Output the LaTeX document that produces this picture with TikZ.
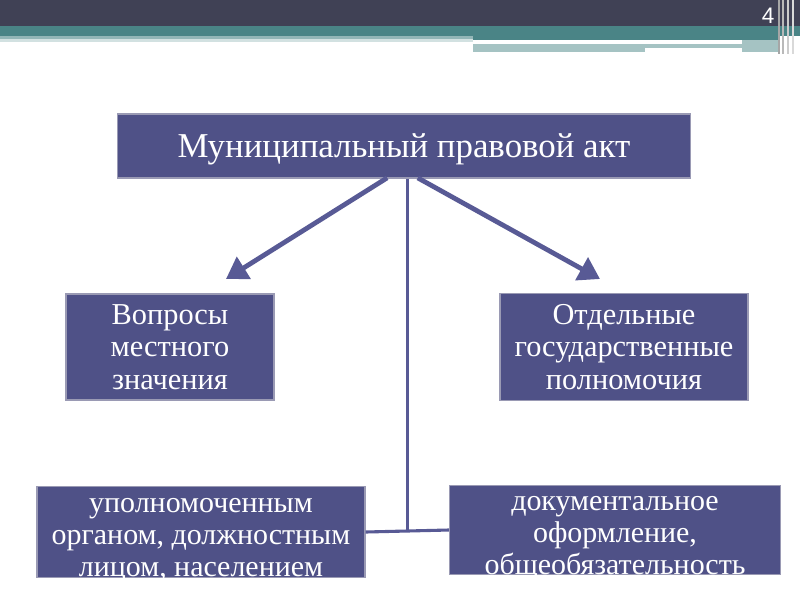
\documentclass[tikz,border=0pt]{standalone}
\usepackage{fontspec}
\setmainfont{Liberation Serif}
\newfontfamily\numfont{Liberation Sans}
\usetikzlibrary{arrows.meta,positioning,calc}

\definecolor{boxblue}{HTML}{4F5187}
\definecolor{boxedge}{HTML}{9A9AB4}
\definecolor{linkblue}{HTML}{585A95}
\definecolor{bardark}{HTML}{404155}
\definecolor{barteal}{HTML}{4A8486}
\definecolor{barlight}{HTML}{A5C3C3}

\newcommand{\toprule}{\rule{0pt}{22pt}}

\begin{document}
\begin{tikzpicture}[
    x=0.025cm, y=-0.025cm,
    box/.style={rectangle, draw=boxedge, line width=0.8pt, fill=boxblue, text=white, align=center, inner sep=0pt, font=\fontsize{21.6}{23}\selectfont},
    lowbox/.style={box, font=\fontsize{21.3}{22.5}\selectfont},
    arrow/.style={-{Triangle[length=15pt, width=18pt]}, line width=3.4pt, draw=linkblue, shorten <=-1pt},
    link/.style={line width=2.2pt, draw=linkblue}
]
\useasboundingbox (0,0) rectangle (800,600);
\fill[white] (0,0) rectangle (800,600);

% Header bars
\fill[bardark] (0,0) rectangle (800,26);
\fill[barteal] (0,26) rectangle (800,36);
\fill[barlight!80!barteal] (0,36) rectangle (473,39);
\fill[barlight!50!white] (0,39) rectangle (473,42);
\fill[barteal] (473,36) rectangle (780,40);
\fill[barlight] (473,44) rectangle (645,52);
\fill[barlight] (645,44) rectangle (780,48);
\fill[barlight] (742,40) rectangle (780,52);
\foreach \x/\c in {779/gray!70, 783/gray!55, 788/gray!40, 793/gray!30}
  \draw[\c, line width=1.2pt] (\x,0) -- (\x,54);
\node[font=\numfont\fontsize{16}{16}\selectfont, text=white] (pnum) at (768,16) {4};

% Boxes
\node[box, minimum width=14.3cm, minimum height=1.6cm, text height=18pt, text depth=1pt, font=\fontsize{24.8}{27}\selectfont] (act) at (404,146) {Муниципальный правовой акт};
\node[box, minimum width=5.2cm, minimum height=2.65cm] (local) at (170,347) {Вопросы\\местного\\значения};
\node[box, minimum width=6.2cm, minimum height=2.68cm] (state) at (624,347) {Отдельные\\государственные\\полномочия};
\node[lowbox, minimum width=8.2cm, inner ysep=-3.1pt] (organ) at (201,532) {\toprule уполномоченным\\органом, должностным\\лицом, населением};
\node[lowbox, minimum width=8.28cm, inner ysep=-3.8pt] (doc) at (615,530) {\toprule документальное\\оформление,\\общеобязательность};

% Arrows
\coordinate (tipL) at (226,279);
\coordinate (tipR) at (600,279);
\coordinate (jn) at ($(organ.east)!0.5!(doc.west)$);
\draw[arrow] ($(act.south)+(-18,0)$) -- (tipL);
\draw[arrow] ($(act.south)+(15,0)$) -- (tipR);
\draw[link] (act.south -| jn) -- (jn);
\draw[link] (organ.east) -- (doc.west);

\end{tikzpicture}
\end{document}
